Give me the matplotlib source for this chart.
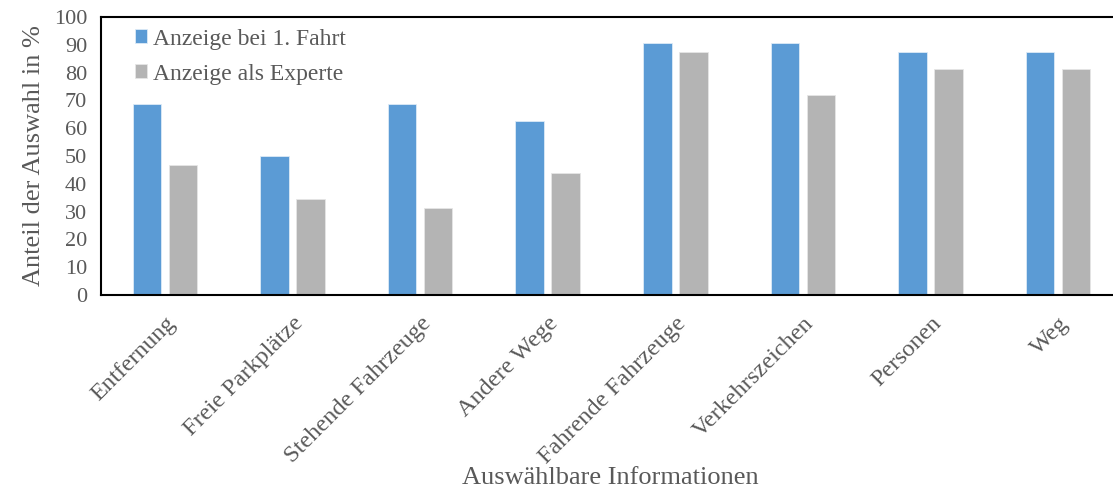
import numpy as np
import matplotlib
matplotlib.use('Agg')
import matplotlib.pyplot as plt

# Data
categories = ['Entfernung', 'Freie Parkplätze', 'Stehende Fahrzeuge', 'Andere Wege',
              'Fahrende Fahrzeuge', 'Verkehrszeichen', 'Personen', 'Weg']
erste_fahrt = [68.75, 50.0, 68.75, 62.5, 90.625, 90.625, 87.5, 87.5]
experte = [46.875, 34.375, 31.25, 43.75, 87.5, 71.875, 81.25, 81.25]
y_ticks = list(range(0, 101, 10))

text_color = '#595959'
plt.rcParams['font.family'] = ['Liberation Serif', 'DejaVu Serif']

fig = plt.figure(figsize=(11.13, 4.9), dpi=100)
ax = fig.add_axes([101 / 1113, 195 / 490, 1021 / 1113, 278 / 490])

x = np.arange(len(categories))
width = 0.223
offset = 0.141
ax.bar(x - offset, erste_fahrt, width, color='#5B9BD5', edgecolor='#DDEBF7',
       linewidth=0.6, label='Anzeige bei 1. Fahrt')
ax.bar(x + offset, experte, width, color='#B4B4B4', edgecolor='#E6E6E6',
       linewidth=0.6, label='Anzeige als Experte')

ax.set_xlim(-0.5, len(categories) - 0.5)
ax.set_ylim(0, 100)
ax.set_yticks(y_ticks)
ax.set_xticks(x)
ax.set_xticklabels(categories, rotation=45, ha='right', rotation_mode='anchor')
ax.tick_params(axis='both', length=0, labelcolor=text_color)
ax.tick_params(axis='x', labelsize=17.5, pad=13)
ax.tick_params(axis='y', labelsize=16, pad=10)

for side in ['top', 'bottom', 'left', 'right']:
    ax.spines[side].set_color('black')
    ax.spines[side].set_linewidth(1.5)

ax.set_ylabel('Anteil der Auswahl in %', fontsize=19, color=text_color, labelpad=6)
ax.set_xlabel('Auswählbare Informationen', fontsize=19, color=text_color)
# the x label sits between the rotated tick labels, like in the original chart
ax.xaxis.set_label_coords((610 - 101) / 1021, -0.617)

leg = ax.legend(loc='upper left', bbox_to_anchor=(0.012, 1.035), frameon=False,
                fontsize=17, handlelength=0.55, handleheight=0.55, handletextpad=0.25,
                labelspacing=0.6, labelcolor=text_color)

fig.savefig('out.png', dpi=100)
